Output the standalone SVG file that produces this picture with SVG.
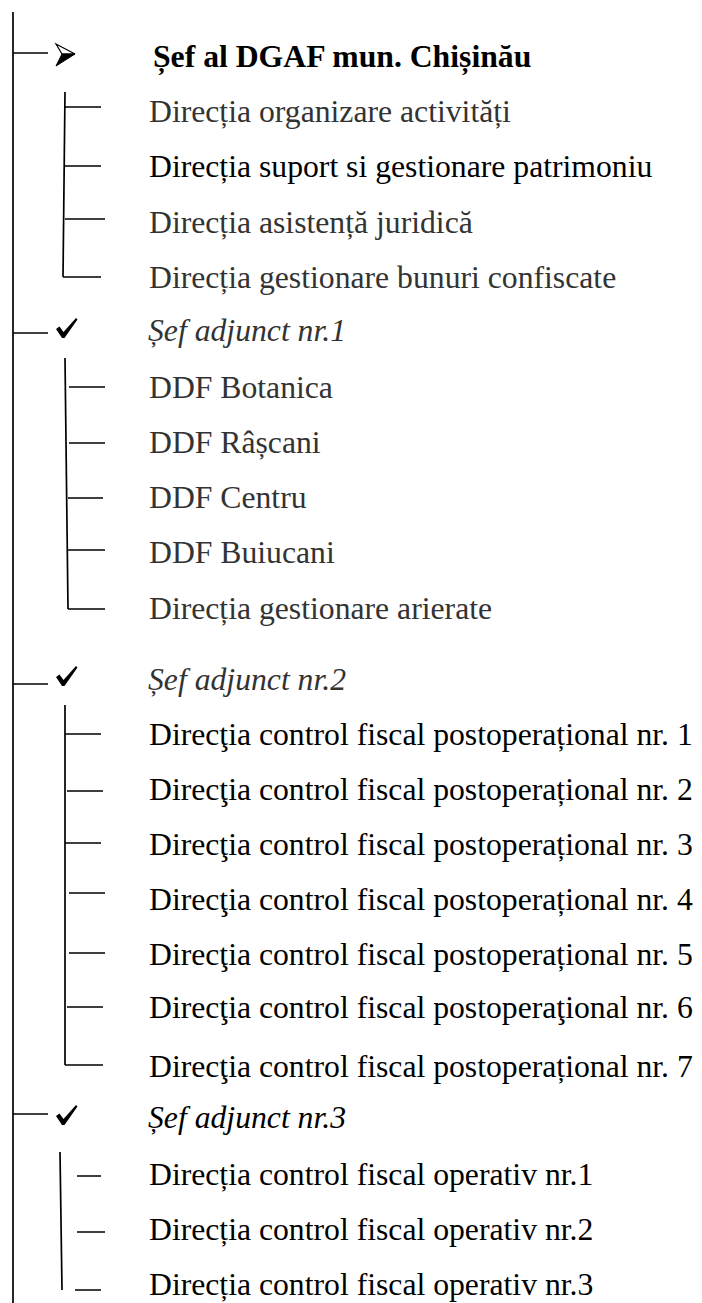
<svg xmlns="http://www.w3.org/2000/svg" width="702" height="1303" viewBox="0 0 702 1303">
<style>
text{font-family:'Liberation Serif','Times New Roman',serif;font-size:31.7px;fill:#000}
.g{fill:#333}
.b{font-weight:bold}
.i{font-style:italic}
.c{stroke:#000;stroke-width:1.7;fill:none}
</style>
<defs>
<g id="arrowbullet">
<path d="M0,-10 L19,0 L6,0 Z" fill="#fff" stroke="#000" stroke-width="1.2" stroke-linejoin="miter"/>
<path d="M6,0 L19,0 L0,12 Z" fill="#000" stroke="#000" stroke-width="1"/>
</g>
<path id="check" d="M0,10 L3.5,7.5 L7.5,13 L20,-1 L21.5,0.5 L8.5,19 L6,19 Z" fill="#000"/>
</defs>
<rect width="702" height="1303" fill="#fff"/>
<g id="connectors" class="c">
<path d="M13,12 V1303"/>
<path d="M13,53 H48"/>
<path d="M65,92 L63,277"/>
<path d="M65,107 H101 M65,166 H101 M65,219 H105 M63,277 H101"/>
<path d="M13,333 H48"/>
<path d="M65,358 L68,609"/>
<path d="M69,387 H105 M69,443 H105 M68,498 H103 M68,550 H105 M68,609 H105"/>
<path d="M13,684 H48"/>
<path d="M65,705 V1065"/>
<path d="M65,734 H101 M67,791 H103 M65,843 H101 M69,893 H105 M69,953 H105 M67,1007 H103 M65,1065 H103"/>
<path d="M13,1114 H48"/>
<path d="M60,1152 L62,1290"/>
<path d="M77,1176 H101 M77,1232 H105 M75,1290 H101"/>
</g>
<g id="sef-dgaf">
<use href="#arrowbullet" x="56" y="54"/>
<text class="b" x="153" y="67">Șef al DGAF mun. Chișinău</text>
</g>
<g id="dir-organizare"><text class="g" x="149" y="122">Direcția organizare activități</text></g>
<g id="dir-suport"><text x="149" y="177">Direcția suport si gestionare patrimoniu</text></g>
<g id="dir-asistenta"><text class="g" x="149" y="233">Direcția asistență juridică</text></g>
<g id="dir-bunuri"><text class="g" x="149" y="288">Direcția gestionare bunuri confiscate</text></g>
<g id="sef-adj-1">
<use href="#check" x="56" y="319"/>
<text class="g i" x="148" y="341">Șef adjunct nr.1</text>
</g>
<g id="ddf-botanica"><text class="g" x="149" y="398">DDF Botanica</text></g>
<g id="ddf-rascani"><text class="g" x="149" y="453">DDF Râșcani</text></g>
<g id="ddf-centru"><text class="g" x="149" y="508">DDF Centru</text></g>
<g id="ddf-buiucani"><text class="g" x="149" y="563">DDF Buiucani</text></g>
<g id="dir-arierate"><text class="g" x="149" y="619">Direcția gestionare arierate</text></g>
<g id="sef-adj-2">
<use href="#check" x="56" y="667"/>
<text class="g i" x="148" y="690">Șef adjunct nr.2</text>
</g>
<g id="dcfp-1"><text x="149" y="745">Direcţia control fiscal postoperațional nr. 1</text></g>
<g id="dcfp-2"><text x="149" y="800">Direcţia control fiscal postoperațional nr. 2</text></g>
<g id="dcfp-3"><text x="149" y="855">Direcţia control fiscal postoperațional nr. 3</text></g>
<g id="dcfp-4"><text x="149" y="910">Direcţia control fiscal postoperațional nr. 4</text></g>
<g id="dcfp-5"><text x="149" y="965">Direcţia control fiscal postoperațional nr. 5</text></g>
<g id="dcfp-6"><text x="149" y="1018">Direcţia control fiscal postoperaţional nr. 6</text></g>
<g id="dcfp-7"><text x="149" y="1077">Direcţia control fiscal postoperațional nr. 7</text></g>
<g id="sef-adj-3">
<use href="#check" x="56" y="1106"/>
<text class="i" x="148" y="1128">Șef adjunct nr.3</text>
</g>
<g id="dcfo-1"><text x="149" y="1185">Direcția control fiscal operativ nr.1</text></g>
<g id="dcfo-2"><text x="149" y="1240">Direcția control fiscal operativ nr.2</text></g>
<g id="dcfo-3"><text x="149" y="1295">Direcția control fiscal operativ nr.3</text></g>
</svg>
